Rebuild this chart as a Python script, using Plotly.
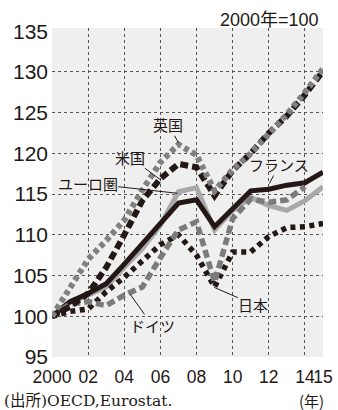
import plotly.graph_objects as go

years = list(range(2000, 2016))
years_de = list(range(2000, 2015))

france = [100, 101.8, 102.8, 104.0, 106.4, 108.9, 111.3, 113.9, 114.3, 111.0, 113.2, 115.4, 115.6, 116.1, 116.4, 117.7]
euro = [100, 101.7, 102.6, 103.6, 106.0, 108.3, 111.2, 115.3, 115.8, 110.6, 113.0, 114.6, 113.6, 113.0, 114.2, 115.9]
us = [100, 101.2, 102.8, 106.0, 110.0, 114.2, 116.9, 118.7, 118.3, 114.8, 117.9, 120.0, 122.5, 124.6, 127.2, 130.1]
uk = [100, 103.4, 107.0, 109.3, 111.8, 115.5, 118.9, 121.1, 119.8, 115.4, 118.0, 120.0, 122.4, 124.8, 127.5, 130.4]
germany = [100, 101.5, 101.8, 101.3, 102.6, 103.6, 107.2, 110.6, 111.6, 104.2, 112.0, 114.4, 114.0, 114.3, 115.9]
japan = [100, 100.6, 100.9, 103.0, 104.8, 106.7, 108.8, 110.0, 107.5, 103.6, 107.9, 107.9, 109.8, 110.9, 111.0, 111.4]

x_tickvals = [2000, 2002, 2004, 2006, 2008, 2010, 2012, 2014, 2015]
x_ticktext = ["2000", "02", "04", "06", "08", "10", "12", "14", "15"]
y_tickvals = [95, 100, 105, 110, 115, 120, 125, 130, 135]
x_gridvals = [2002, 2004, 2006, 2008, 2010, 2012, 2014]
y_gridvals = [100, 105, 110, 115, 120, 125, 130]

BLACK = "#231815"
DARKGRAY = "#7b7b7b"
LIGHTGRAY = "#a9a9a9"

fig = go.Figure()
fig.add_trace(go.Scatter(x=years, y=euro, mode="lines", line=dict(color=LIGHTGRAY, width=5), name="ユーロ圏"))
fig.add_trace(go.Scatter(x=years, y=france, mode="lines", line=dict(color=BLACK, width=5), name="フランス"))
fig.add_trace(go.Scatter(x=years, y=japan, mode="lines", line=dict(color=BLACK, width=5.5, dash="5px,4.5px"), name="日本"))
fig.add_trace(go.Scatter(x=years_de, y=germany, mode="lines", line=dict(color=DARKGRAY, width=5.5, dash="8px,4px"), name="ドイツ"))
fig.add_trace(go.Scatter(x=years, y=us, mode="lines", line=dict(color=BLACK, width=6, dash="8px,4px"), name="米国"))
fig.add_trace(go.Scatter(x=years, y=uk, mode="lines", line=dict(color="#808080", width=6, dash="5px,3.5px"), name="英国"))
# empty trace to materialise grid-only overlay axes
fig.add_trace(go.Scatter(x=[], y=[], xaxis="x2", yaxis="y2", showlegend=False, hoverinfo="skip"))

XR = [2000, 2015]
YR = [95, 135.4]
tickfont_x = dict(family="Liberation Sans, Arial", size=17.5, color=BLACK)
tickfont_y = dict(family="Liberation Sans, Arial", size=21, color=BLACK)

fig.update_layout(
    width=338, height=410,
    margin=dict(l=52, r=5, t=28, b=53),
    paper_bgcolor="white",
    plot_bgcolor="#efefef",
    showlegend=False,
    xaxis=dict(range=XR, tickvals=x_tickvals, ticktext=x_ticktext, tickangle=0,
               showgrid=False, zeroline=False, showline=False, ticks="",
               ticklabelstandoff=7, ticklabeloverflow="allow", tickfont=tickfont_x),
    yaxis=dict(range=YR, tickvals=y_tickvals, showgrid=False, zeroline=False,
               showline=False, ticks="", ticklabelstandoff=3, tickfont=tickfont_y),
    xaxis2=dict(range=XR, overlaying="x", anchor="y2", tickvals=x_gridvals,
                showgrid=True, gridcolor="#555555", griddash="dot", gridwidth=1,
                showticklabels=False, ticks="", zeroline=False, showline=False),
    yaxis2=dict(range=YR, overlaying="y", anchor="x2", tickvals=y_gridvals,
                showgrid=True, gridcolor="#555555", griddash="dot", gridwidth=1,
                showticklabels=False, ticks="", zeroline=False, showline=False),
)

lab_font = dict(family="Noto Sans CJK JP", size=15, color=BLACK)
labels = [
    ("英国", 2007.0, 121.3, -10, -18),
    ("米国", 2006.04, 116.7, -31, -23),
    ("ユーロ圏", 2006.95, 115.1, -90, -10),
    ("フランス", 2012.03, 116.3, 10, -19),
    ("日本", 2008.98, 103.55, 39, 17),
    ("ドイツ", 2004.33, 102.7, 22, 31),
]
for text, x, y, ax, ay in labels:
    fig.add_annotation(x=x, y=y, text=text, showarrow=True, arrowhead=0, arrowwidth=1,
                       arrowcolor=BLACK, ax=ax, ay=ay, standoff=0, startstandoff=0,
                       font=lab_font, borderpad=0)

fig.add_annotation(xref="paper", yref="paper", x=1, y=1.024, xanchor="right", yanchor="middle",
                   xshift=-2, text="2000年=100", showarrow=False,
                   font=dict(family="Liberation Sans, Arial, Noto Sans CJK JP", size=18, color=BLACK))
fig.add_annotation(xref="paper", yref="paper", x=-0.185, y=-0.1337, xanchor="left", yanchor="middle",
                   text="(出所)OECD,Eurostat.", showarrow=False,
                   font=dict(family="DejaVu Serif, Liberation Serif, Noto Sans CJK JP", size=15.5, color=BLACK))
fig.add_annotation(xref="paper", yref="paper", x=0.958, y=-0.1337, xanchor="center", yanchor="middle",
                   text="(年)", showarrow=False,
                   font=dict(family="Noto Sans CJK JP", size=15, color=BLACK))

fig.write_html("out.html")
